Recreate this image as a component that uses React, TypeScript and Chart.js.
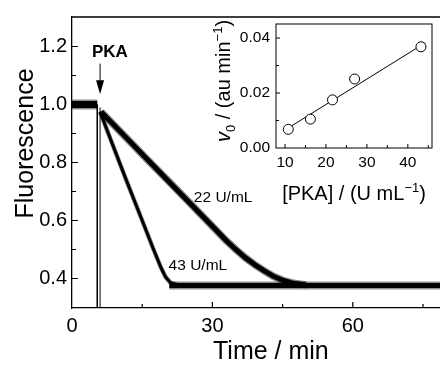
import React, { useEffect, useRef } from 'react';
import { Chart, registerables } from 'chart.js';

Chart.register(...registerables);

const FONT = "'Liberation Sans', Arial, Helvetica, sans-serif";

// ---------- main panel data ----------
const baselineTime = [0, 5.4];
const baselineFluor = [1.0, 1.0];
const injectionTime = [5.4, 5.4, 5.7, 6.0, 6.0];
const injectionFluor = [1.0, 0.2, null, 0.2, 0.99];
const time43 = [6.0, 8.0, 11.7, 15.0, 17.3, 19.0, 20.0, 21.0, 22.5];
const fluor43 = [0.975, 0.89, 0.735, 0.6, 0.505, 0.438, 0.405, 0.386, 0.378];
const time22 = [6.2, 8.0, 12.4, 16.0, 20.0, 25.0, 30.0, 33.0, 35.0, 37.0, 39.0, 41.0, 43.0, 45.0, 47.0, 50.0];
const fluor22 = [0.975, 0.945, 0.872, 0.812, 0.746, 0.663, 0.58, 0.53, 0.5, 0.472, 0.448, 0.427, 0.408, 0.394, 0.385, 0.378];
const plateauTime = [20.8, 85];
const plateauFluor = [0.376, 0.376];

const mainXMajor = [0, 30, 60];
const mainXMinor = [15, 45, 75];
const mainYMajor = [0.4, 0.6, 0.8, 1.0, 1.2];
const mainYMinor = [0.5, 0.7, 0.9, 1.1];

const traceLabels = ['22 U/mL', '43 U/mL'];
const traceLabelX = [32.3, 26.9];
const traceLabelY = [0.678, 0.444];

const arrowX = 6.0;
const arrowTop = 1.141;
const arrowTip = 1.035;
const pkaLabelX = 8.1;
const pkaLabelY = 1.181;

// ---------- inset data ----------
const pkaConc = [10.8, 16.2, 21.6, 27.0, 43.2];
const initialRate = [0.0068, 0.0105, 0.0175, 0.0251, 0.0368];
const fitConc = [10.8, 44.3];
const fitRate = [0.0073, 0.0383];
const insetXMajor = [10, 20, 30, 40];
const insetXMinor = [15, 25, 35, 45];
const insetYMajor = [0, 0.02, 0.04];
const insetYMinor = [0.01, 0.03];

const toPoints = (xs: number[], ys: (number | null)[]) => xs.map((x, i) => ({ x, y: ys[i] }));

type Seg = { text: string; size: number; italic?: boolean; bold?: boolean; dy?: number };

function drawRich(ctx: CanvasRenderingContext2D, segs: Seg[], cx: number, cy: number, angle: number) {
  ctx.save();
  ctx.translate(cx, cy);
  ctx.rotate(angle);
  ctx.fillStyle = '#000';
  ctx.textBaseline = 'alphabetic';
  ctx.textAlign = 'left';
  const fontOf = (s: Seg) => `${s.italic ? 'italic ' : ''}${s.bold ? 'bold ' : ''}${s.size}px ${FONT}`;
  let total = 0;
  let maxSize = 0;
  const widths = segs.map((s) => {
    ctx.font = fontOf(s);
    const w = ctx.measureText(s.text).width;
    total += w;
    maxSize = Math.max(maxSize, s.size);
    return w;
  });
  const base = maxSize * 0.358;
  let x = -total / 2;
  segs.forEach((s, i) => {
    ctx.font = fontOf(s);
    ctx.fillText(s.text, x, base + (s.dy || 0));
    x += widths[i];
  });
  ctx.restore();
}

function drawTicks(
  chart: any,
  xMaj: number[], xMin: number[], yMaj: number[], yMin: number[],
  majLen: number, minLen: number, lw: number
) {
  const ctx = chart.ctx as CanvasRenderingContext2D;
  const { left, right, top, bottom } = chart.chartArea;
  const xs = chart.scales.x;
  const ys = chart.scales.y;
  ctx.save();
  ctx.strokeStyle = '#000';
  ctx.lineWidth = lw;
  ctx.beginPath();
  const xt = (v: number, len: number) => {
    const p = xs.getPixelForValue(v);
    if (p <= left + 0.5 || p >= right - 0.5) return;
    ctx.moveTo(p, bottom);
    ctx.lineTo(p, bottom - len);
  };
  const yt = (v: number, len: number) => {
    const p = ys.getPixelForValue(v);
    if (p >= bottom - 0.5 || p <= top + 0.5) return;
    ctx.moveTo(left, p);
    ctx.lineTo(left + len, p);
  };
  xMaj.forEach((v) => xt(v, majLen));
  xMin.forEach((v) => xt(v, minLen));
  yMaj.forEach((v) => yt(v, majLen));
  yMin.forEach((v) => yt(v, minLen));
  ctx.stroke();
  ctx.restore();
}

const mainDecor = {
  id: 'mainDecor',
  afterDatasetsDraw(chart: any) {
    const ctx = chart.ctx as CanvasRenderingContext2D;
    const { left, right, top, bottom } = chart.chartArea;
    const xs = chart.scales.x;
    const ys = chart.scales.y;
    ctx.save();
    ctx.strokeStyle = '#000';
    ctx.lineWidth = 1.3;
    ctx.beginPath();
    ctx.moveTo(left, top);
    ctx.lineTo(right, top);
    ctx.lineTo(right, bottom);
    ctx.stroke();
    ctx.restore();

    drawTicks(chart, mainXMajor, mainXMinor, mainYMajor, mainYMinor, 6, 4, 1.2);

    // PKA arrow
    const ax = xs.getPixelForValue(arrowX);
    const aTop = ys.getPixelForValue(arrowTop);
    const aTip = ys.getPixelForValue(arrowTip);
    ctx.save();
    ctx.strokeStyle = '#000';
    ctx.fillStyle = '#000';
    ctx.lineWidth = 1;
    ctx.beginPath();
    ctx.moveTo(ax, aTop);
    ctx.lineTo(ax, aTip - 12);
    ctx.stroke();
    ctx.beginPath();
    ctx.moveTo(ax - 4, aTip - 14);
    ctx.lineTo(ax + 4, aTip - 14);
    ctx.lineTo(ax, aTip);
    ctx.closePath();
    ctx.fill();

    ctx.font = `bold 17px ${FONT}`;
    ctx.textAlign = 'center';
    ctx.textBaseline = 'middle';
    ctx.fillText('PKA', xs.getPixelForValue(pkaLabelX), ys.getPixelForValue(pkaLabelY));

    ctx.font = `15.5px ${FONT}`;
    traceLabels.forEach((t, i) => {
      ctx.fillText(t, xs.getPixelForValue(traceLabelX[i]), ys.getPixelForValue(traceLabelY[i]));
    });
    ctx.restore();

    drawRich(ctx, [{ text: 'Fluorescence', size: 25 }], 24, 143.5, -Math.PI / 2);
  },
};

const insetDecor = {
  id: 'insetDecor',
  afterDatasetsDraw(chart: any) {
    const ctx = chart.ctx as CanvasRenderingContext2D;
    const { left, right, top, bottom } = chart.chartArea;
    ctx.save();
    ctx.strokeStyle = '#000';
    ctx.lineWidth = 1;
    ctx.strokeRect(left, top, right - left, bottom - top);
    ctx.restore();
    drawTicks(chart, insetXMajor, insetXMinor, insetYMajor, insetYMinor, 4, 3, 1);

    drawRich(
      ctx,
      [
        { text: '[PKA] / (U mL', size: 20 },
        { text: '\u22121', size: 13, dy: -8 },
        { text: ')', size: 20 },
      ],
      (left + right) / 2,
      bottom + 45,
      0
    );
    drawRich(
      ctx,
      [
        { text: 'v', size: 20, italic: true },
        { text: '0', size: 13, dy: 5 },
        { text: ' / (au min', size: 20 },
        { text: '\u22121', size: 13, dy: -8 },
        { text: ')', size: 20 },
      ],
      left - 53,
      (top + bottom) / 2 - 5,
      -Math.PI / 2
    );
  },
};

const MAIN_W = 480;
const MAIN_H = 367;
const INSET_LEFT = 206;
const INSET_W = 234;
const INSET_H = 210;

// noisy trace rendered as a grey noise envelope with a black core
function band(points: any[], core: number, halo: number) {
  const common = { data: points, pointRadius: 0, tension: 0, fill: false, borderJoinStyle: 'round' as const };
  return [
    { ...common, borderWidth: halo, borderColor: 'rgba(0,0,0,0.45)' },
    { ...common, borderWidth: core, borderColor: '#000' },
  ];
}

export default function App() {
  const mainRef = useRef<HTMLCanvasElement>(null);
  const insetRef = useRef<HTMLCanvasElement>(null);

  useEffect(() => {
    const tickFont = { family: FONT, size: 20 };
    const main = new Chart(mainRef.current as HTMLCanvasElement, {
      type: 'line',
      data: {
        datasets: [
          ...band(toPoints(baselineTime, baselineFluor), 7, 10),
          {
            data: toPoints(injectionTime, injectionFluor),
            borderWidth: 1,
            borderColor: '#000',
            spanGaps: false,
            pointRadius: 0,
            tension: 0,
            fill: false,
          },
          ...band(toPoints(time22, fluor22), 5, 7.5),
          ...band(toPoints(time43, fluor43), 3, 4.5),
          ...band(toPoints(plateauTime, plateauFluor), 5, 8),
        ],
      },
      options: {
        responsive: false,
        animation: false,
        layout: { padding: { left: 0, top: 12, right: MAIN_W - (72 + 85 * 4.68), bottom: 0 } },
        plugins: { legend: { display: false }, tooltip: { enabled: false } },
        scales: {
          x: {
            type: 'linear',
            min: 0,
            max: 85,
            afterBuildTicks: (s: any) => {
              s.ticks = mainXMajor.map((v) => ({ value: v }));
            },
            afterFit: (s: any) => {
              s.height = 59;
            },
            grid: { display: false, drawTicks: false },
            border: { display: true, color: '#000', width: 1.3 },
            ticks: { font: tickFont, color: '#000', padding: 6, maxRotation: 0, autoSkip: false },
            title: {
              display: true,
              text: 'Time / min',
              font: { family: FONT, size: 25 },
              color: '#000',
              padding: { top: 0, bottom: 0 },
            },
          },
          y: {
            type: 'linear',
            min: 0.2983,
            max: 1.3017,
            afterBuildTicks: (s: any) => {
              s.ticks = mainYMajor.map((v) => ({ value: v }));
            },
            afterFit: (s: any) => {
              s.width = 72;
            },
            grid: { display: false, drawTicks: false },
            border: { display: true, color: '#000', width: 1.3 },
            ticks: {
              font: tickFont,
              color: '#000',
              padding: 5,
              autoSkip: false,
              callback: (v: any) => Number(v).toFixed(1),
            },
          },
        },
      },
      plugins: [mainDecor],
    } as any);

    const insetFont = { family: FONT, size: 15.5 };
    const inset = new Chart(insetRef.current as HTMLCanvasElement, {
      type: 'scatter',
      data: {
        datasets: [
          {
            type: 'scatter',
            data: toPoints(pkaConc, initialRate),
            pointRadius: 5,
            pointBorderWidth: 1,
            pointBorderColor: '#000',
            pointBackgroundColor: '#fff',
            order: 0,
          },
          {
            type: 'line',
            data: toPoints(fitConc, fitRate),
            borderColor: '#000',
            borderWidth: 1,
            pointRadius: 0,
            fill: false,
            order: 1,
          },
        ],
      },
      options: {
        responsive: false,
        animation: false,
        layout: { padding: { left: 0, top: 24, right: 8, bottom: 0 } },
        plugins: { legend: { display: false }, tooltip: { enabled: false } },
        scales: {
          x: {
            type: 'linear',
            min: 7.8,
            max: 45.9,
            afterBuildTicks: (s: any) => {
              s.ticks = insetXMajor.map((v) => ({ value: v }));
            },
            afterFit: (s: any) => {
              s.height = INSET_H - 148;
            },
            grid: { display: false, drawTicks: false },
            border: { display: false },
            ticks: { font: insetFont, color: '#000', padding: 5, maxRotation: 0, autoSkip: false },
          },
          y: {
            type: 'linear',
            min: 0,
            max: 0.0451,
            afterBuildTicks: (s: any) => {
              s.ticks = insetYMajor.map((v) => ({ value: v }));
            },
            afterFit: (s: any) => {
              s.width = 70;
            },
            grid: { display: false, drawTicks: false },
            border: { display: false },
            ticks: {
              font: insetFont,
              color: '#000',
              padding: 6,
              autoSkip: false,
              callback: (v: any) => Number(v).toFixed(2),
            },
          },
        },
      },
      plugins: [insetDecor],
    } as any);

    return () => {
      main.destroy();
      inset.destroy();
    };
  }, []);

  return (
    <div
      style={{
        position: 'absolute',
        left: 0,
        top: 0,
        width: 440,
        height: 367,
        overflow: 'hidden',
        background: '#fff',
      }}
    >
      <canvas
        ref={mainRef}
        width={MAIN_W}
        height={MAIN_H}
        style={{ position: 'absolute', left: 0, top: 0, display: 'block' }}
      />
      <canvas
        ref={insetRef}
        width={INSET_W}
        height={INSET_H}
        style={{ position: 'absolute', left: INSET_LEFT, top: 0, display: 'block' }}
      />
    </div>
  );
}
